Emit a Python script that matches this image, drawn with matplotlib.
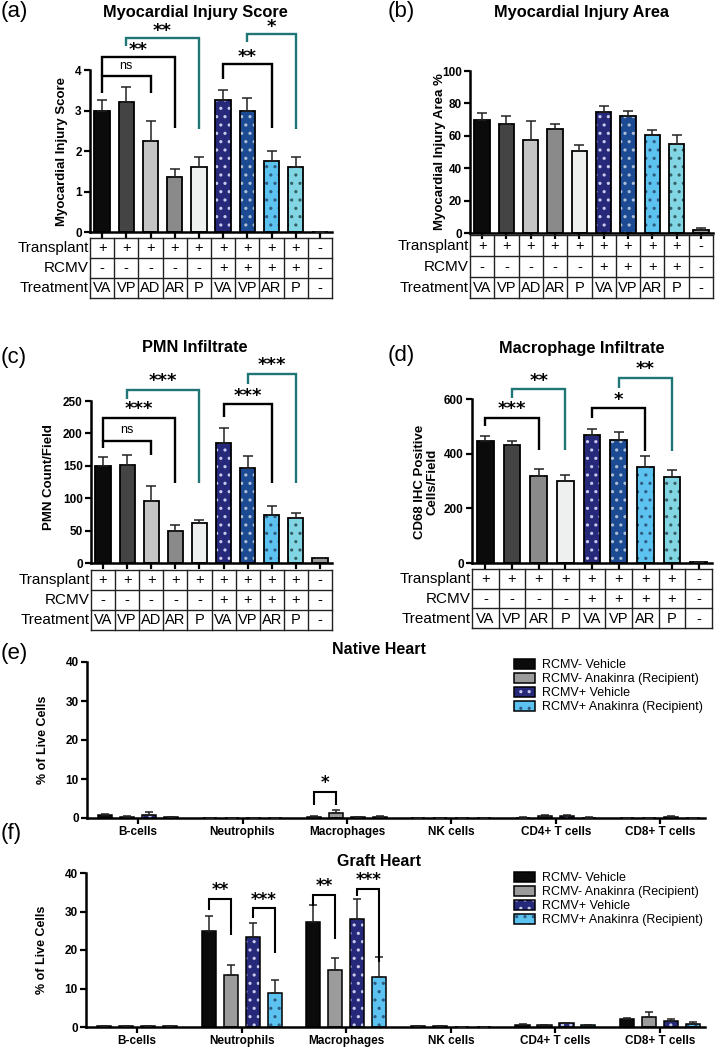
import matplotlib
matplotlib.use('Agg')
import matplotlib.pyplot as plt
import numpy as np
from matplotlib.patches import Patch
from matplotlib.legend_handler import HandlerTuple

plt.rcParams['font.family'] = ['Liberation Sans', 'DejaVu Sans']
plt.rcParams['hatch.linewidth'] = 1.1

# ---------------- data ----------------
transplant_ab = ['+', '+', '+', '+', '+', '+', '+', '+', '+', '-']
rcmv_ab = ['-', '-', '-', '-', '-', '+', '+', '+', '+', '-']
treat_ab = ['VA', 'VP', 'AD', 'AR', 'P', 'VA', 'VP', 'AR', 'P', '-']

score_mean = [3.0, 3.2, 2.25, 1.37, 1.6, 3.25, 3.0, 1.75, 1.6, 0.0]
score_err = [0.27, 0.38, 0.48, 0.18, 0.25, 0.25, 0.32, 0.25, 0.25, 0.0]
area_mean = [69.5, 67, 57.5, 64, 50.5, 75, 72, 60.5, 55, 2]
area_err = [4.5, 5, 11.5, 3.5, 4, 3.5, 3.5, 3, 5.5, 0.8]
pmn_mean = [149, 151, 96, 50, 62, 185, 147, 74, 69, 7]
pmn_err = [14, 16, 23, 8, 5, 24, 18, 14, 8, 0.5]

transplant_d = ['+', '+', '+', '+', '+', '+', '+', '+', '-']
rcmv_d = ['-', '-', '-', '-', '+', '+', '+', '+', '-']
treat_d = ['VA', 'VP', 'AR', 'P', 'VA', 'VP', 'AR', 'P', '-']
cd68_mean = [447, 430, 320, 299, 470, 451, 353, 315, 5]
cd68_err = [16, 18, 25, 22, 20, 28, 37, 24, 0]

cell_types = ['B-cells', 'Neutrophils', 'Macrophages', 'NK cells', 'CD4+ T cells', 'CD8+ T cells']
series_names = ['RCMV- Vehicle', 'RCMV- Anakinra (Recipient)', 'RCMV+ Vehicle', 'RCMV+ Anakinra (Recipient)']
native_mean = [
    [0.7, 0.1, 0.3, 0.05, 0.1, 0.05],
    [0.3, 0.1, 1.3, 0.05, 0.4, 0.05],
    [0.8, 0.05, 0.2, 0.0, 0.4, 0.3],
    [0.2, 0.05, 0.3, 0.0, 0.1, 0.05],
]
native_err = [
    [0.2, 0.0, 0.1, 0.0, 0.1, 0.0],
    [0.1, 0.0, 0.8, 0.0, 0.4, 0.0],
    [0.7, 0.0, 0.1, 0.0, 0.4, 0.1],
    [0.05, 0.0, 0.1, 0.0, 0.05, 0.0],
]
graft_mean = [
    [0.2, 25.0, 27.2, 0.3, 0.6, 2.2],
    [0.2, 13.6, 14.9, 0.3, 0.5, 2.7],
    [0.3, 23.3, 28.1, 0.1, 1.0, 1.5],
    [0.3, 8.8, 12.9, 0.1, 0.4, 0.7],
]
graft_err = [
    [0.05, 3.9, 4.4, 0.05, 0.2, 0.2],
    [0.05, 2.5, 2.9, 0.05, 0.1, 1.2],
    [0.05, 3.8, 5.1, 0.0, 0.1, 0.6],
    [0.05, 3.3, 5.3, 0.0, 0.1, 0.5],
]

# ---------------- styles ----------------
BLACK = '#0b0b0b'
TEAL = '#1f7675'
style_va = (BLACK, None)
style_vp = ('#444444', None)
style_ad = ('#c4c4c4', None)
style_ar = ('#8a8a8a', None)
style_p = ('#eef0ef', None)
style_vap = ('#26297a', '#c9c9ee')
style_vpp = ('#1d4b93', '#aebfd8')
style_arp = ('#5cc3f1', '#2f5b80')
style_pp = ('#82d6e3', '#355f66')
style_neg = ('#9a9a9a', None)
styles_ab = [style_va, style_vp, style_ad, style_ar, style_p, style_vap, style_vpp, style_arp, style_pp, style_neg]
styles_d = [style_va, style_vp, style_ar, style_p, style_vap, style_vpp, style_arp, style_pp, style_neg]
styles_ef = [(BLACK, None), ('#9b9b9b', None), ('#26297a', '#c9c9ee'), ('#5cc3f1', '#2f5b80')]

W, H = 715, 1050
fig = plt.figure(figsize=(W / 100, H / 100), dpi=100)


def px_axes(l, t, r, b):
    return fig.add_axes([l / W, 1 - b / H, (r - l) / W, (b - t) / H])


def ftext(x, y, s, **kw):
    fig.text(x / W, 1 - y / H, s, **kw)


def draw_bar(ax, x, h, w, style, lw=1.3):
    fc, hc = style
    ax.bar(x, h, w, color=fc, edgecolor='none', linewidth=0, zorder=2)
    if hc:
        ax.bar(x, h, w, facecolor='none', edgecolor=hc, hatch='..', linewidth=0, zorder=3)
    ax.bar(x, h, w, facecolor='none', edgecolor='black', linewidth=lw, zorder=4)


def style_axes(ax, tick_fs=8.5):
    for s in ['top', 'right']:
        ax.spines[s].set_visible(False)
    for s in ['left', 'bottom']:
        ax.spines[s].set_linewidth(1.8)
    ax.tick_params(axis='both', direction='out', length=4, width=1.6, labelsize=tick_fs, pad=2)
    for lab in ax.get_yticklabels() + ax.get_xticklabels():
        lab.set_fontweight('bold')


def bracket(ax, x1, x2, ytop, yl, yr, text, color, ty, fs=13, lw=1.7):
    ax.plot([x1, x1, x2, x2], [yl, ytop, ytop, yr], color=color, lw=lw, clip_on=False,
            solid_joinstyle='miter', solid_capstyle='butt', zorder=6)
    if text == 'ns':
        ax.text((x1 + x2) / 2, ty, text, ha='center', va='center', fontsize=9, clip_on=False)
    else:
        ax.text((x1 + x2) / 2, ty, text, ha='center', va='center', fontsize=fs,
                fontweight='bold', family='DejaVu Sans', clip_on=False)


def draw_table(tax, rows, labels):
    n = len(rows[0])
    tax.set_xlim(-0.5, n - 0.5)
    tax.set_ylim(len(rows), 0)
    tax.axis('off')
    for i in range(n + 1):
        tax.plot([i - 0.5, i - 0.5], [0, len(rows)], color='#222222', lw=1.0, clip_on=False)
    for j in range(len(rows) + 1):
        tax.plot([-0.5, n - 0.5], [j, j], color='#222222', lw=1.0, clip_on=False)
    for j, row in enumerate(rows):
        tax.text(-0.55, j + 0.52, labels[j], ha='right', va='center', fontsize=11)
        for i, v in enumerate(row):
            tax.text(i, j + 0.52, v, ha='center', va='center', fontsize=10.5)


def top_panel(rect, trect, means, errs, styles, ylim, yticks, brackets, rows):
    ax = px_axes(*rect)
    n = len(means)
    x = np.arange(n)
    for i in range(n):
        draw_bar(ax, x[i], means[i], 0.63, styles[i])
    ax.errorbar(x, means, yerr=[np.zeros(n), errs], fmt='none', ecolor='#222222',
                elinewidth=1.1, capsize=3.5, capthick=1.1, zorder=5)
    ax.set_xlim(-0.5, n - 0.5)
    ax.set_ylim(*ylim)
    ax.set_yticks(yticks)
    ax.set_xticks(x)
    ax.set_xticklabels([])
    style_axes(ax)
    for b in brackets:
        bracket(ax, *b)
    tax = px_axes(*trect)
    draw_table(tax, rows, ['Transplant', 'RCMV', 'Treatment'])
    return ax


TITLE_FS = 11.8
YLAB_FS = 9.5

# (a)
top_panel((90, 70, 332, 232), (90, 238, 332, 298), score_mean, score_err, styles_ab,
          (0, 4), [0, 1, 2, 3, 4],
          [(0, 2, 3.84, 3.42, 3.42, 'ns', 'black', 4.1),
           (0, 3, 4.33, 3.84, 2.56, '**', 'black', 4.5),
           (1, 4, 4.8, 4.6, 2.54, '**', TEAL, 4.97),
           (5, 7, 4.16, 3.79, 2.56, '**', 'black', 4.33),
           (6, 8, 4.9, 4.7, 2.54, '*', TEAL, 5.05)],
          [transplant_ab, rcmv_ab, treat_ab])
ftext(195, 12, 'Myocardial Injury Score', ha='center', va='center', fontsize=TITLE_FS, fontweight='bold')
ftext(62, 151, 'Myocardial Injury Score', ha='center', va='center', rotation=90, fontsize=YLAB_FS, fontweight='bold')
ftext(1, 12, '(a)', ha='left', va='center', fontsize=16)

# (b)
top_panel((470, 71, 713, 233), (470, 235, 713, 298), area_mean, area_err, styles_ab,
          (0, 100), [0, 20, 40, 60, 80, 100], [],
          [transplant_ab, rcmv_ab, treat_ab])
ftext(582, 12, 'Myocardial Injury Area', ha='center', va='center', fontsize=TITLE_FS, fontweight='bold')
ftext(440, 152, 'Myocardial Injury Area %', ha='center', va='center', rotation=90, fontsize=YLAB_FS, fontweight='bold')
ftext(388, 12, '(b)', ha='left', va='center', fontsize=16)

# (c)
top_panel((91, 401, 332, 563), (91, 570, 332, 630), pmn_mean, pmn_err, styles_ab,
          (0, 250), [0, 50, 100, 150, 200, 250],
          [(0, 2, 188.5, 176.7, 166.5, 'ns', 'black', 205),
           (0, 3, 224, 188.5, 123, '***', 'black', 238),
           (1, 4, 267, 253.6, 123, '***', TEAL, 281),
           (5, 7, 245, 225, 123, '***', 'black', 258),
           (6, 8, 291, 276.6, 123, '***', TEAL, 305)],
          [transplant_ab, rcmv_ab, treat_ab])
ftext(195, 348, 'PMN Infiltrate', ha='center', va='center', fontsize=TITLE_FS, fontweight='bold')
ftext(49, 477, 'PMN Count/Field', ha='center', va='center', rotation=90, fontsize=YLAB_FS, fontweight='bold')
ftext(1, 358, '(c)', ha='left', va='center', fontsize=16)

# (d)
top_panel((472, 399, 712, 563), (472, 569, 712, 628), cd68_mean, cd68_err, styles_d,
          (0, 600), [0, 200, 400, 600],
          [(0, 2, 530, 500, 415, '***', 'black', 562),
           (1, 3, 637, 604, 415, '**', TEAL, 667),
           (4, 6, 567, 530, 409, '*', 'black', 597),
           (5, 7, 677, 640, 409, '**', TEAL, 708)],
          [transplant_d, rcmv_d, treat_d])
ftext(582, 348, 'Macrophage Infiltrate', ha='center', va='center', fontsize=TITLE_FS, fontweight='bold')
ftext(426, 482, 'CD68 IHC Positive\nCells/Field', ha='center', va='center', rotation=90,
      fontsize=YLAB_FS, fontweight='bold', linespacing=1.1)
ftext(388, 355, '(d)', ha='left', va='center', fontsize=16)


# (e), (f)
def cell_panel(rect, means, errs):
    ax = px_axes(*rect)
    x = np.arange(len(cell_types))
    offs = [-1.5, -0.5, 0.5, 1.5]
    for k in range(4):
        xs = x + offs[k] * 0.21
        for i in range(len(x)):
            draw_bar(ax, xs[i], means[k][i], 0.135, styles_ef[k], lw=1.1)
        ax.errorbar(xs, means[k], yerr=[np.zeros(len(x)), errs[k]], fmt='none', ecolor='#222222',
                    elinewidth=1.1, capsize=3, capthick=1.1, zorder=5)
    ax.set_xlim(-0.49, 5.43)
    ax.set_ylim(0, 40)
    ax.set_yticks([0, 10, 20, 30, 40])
    ax.set_xticks(x)
    ax.set_xticklabels(cell_types)
    style_axes(ax, tick_fs=8.5)
    ax.tick_params(axis='x', pad=2)
    return ax


handles = []
for fc, hc in styles_ef:
    parts = [Patch(facecolor=fc, edgecolor='none', linewidth=0)]
    if hc:
        parts.append(Patch(facecolor='none', edgecolor=hc, hatch='..', linewidth=0))
    parts.append(Patch(facecolor='none', edgecolor='black', linewidth=1.1))
    handles.append(tuple(parts))

axe = cell_panel((87, 662, 705, 818), native_mean, native_err)
bracket(axe, 1.685, 1.895, 6.7, 3.4, 3.4, '*', 'black', 9.0, fs=12, lw=1.5)
ftext(379, 649, 'Native Heart', ha='center', va='center', fontsize=11.5, fontweight='bold')
ftext(43, 740, '% of Live Cells', ha='center', va='center', rotation=90, fontsize=9, fontweight='bold')
ftext(1, 654, '(e)', ha='left', va='center', fontsize=16)
fig.legend(handles, series_names, handler_map={tuple: HandlerTuple(ndivide=1, pad=0)},
           loc='upper left', bbox_to_anchor=(514 / W, 1 - 659 / H), frameon=False,
           fontsize=9, handlelength=1.7, handleheight=0.8, handletextpad=0.5,
           labelspacing=0.15, borderpad=0, borderaxespad=0)

axf = cell_panel((86, 873, 705, 1027), graft_mean, graft_err)
bracket(axf, 0.685, 0.895, 33.2, 30.5, 24.0, '**', 'black', 35.6, fs=12, lw=1.5)
bracket(axf, 1.105, 1.315, 30.8, 28.3, 19.2, '***', 'black', 33.1, fs=12, lw=1.5)
bracket(axf, 1.685, 1.895, 34.2, 31.5, 22.9, '**', 'black', 36.5, fs=12, lw=1.5)
bracket(axf, 2.105, 2.315, 35.9, 33.9, 16.9, '***', 'black', 38.2, fs=12, lw=1.5)
ftext(379, 861, 'Graft Heart', ha='center', va='center', fontsize=11.5, fontweight='bold')
ftext(42, 950, '% of Live Cells', ha='center', va='center', rotation=90, fontsize=9, fontweight='bold')
ftext(1, 834, '(f)', ha='left', va='center', fontsize=16)
fig.legend(handles, series_names, handler_map={tuple: HandlerTuple(ndivide=1, pad=0)},
           loc='upper left', bbox_to_anchor=(514 / W, 1 - 872 / H), frameon=False,
           fontsize=9, handlelength=1.7, handleheight=0.8, handletextpad=0.5,
           labelspacing=0.15, borderpad=0, borderaxespad=0)

fig.savefig('out.png', dpi=100)
